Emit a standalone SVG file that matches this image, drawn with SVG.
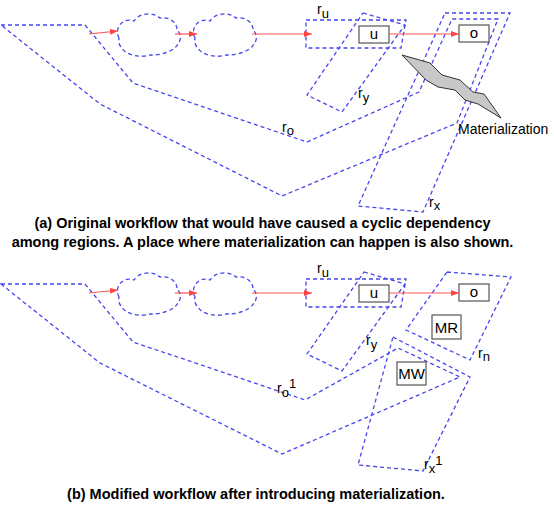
<svg xmlns="http://www.w3.org/2000/svg" width="554" height="510" viewBox="0 0 554 510">
<style>
.region{fill:none;stroke:#4646ee;stroke-width:1.3;stroke-dasharray:4 3}
.flow{fill:none;stroke:#ff5555;stroke-width:1.2;marker-end:url(#ah)}
.box{fill:#fff;stroke:#555;stroke-width:1.2}
.lbl{font-family:"Liberation Sans",Arial,sans-serif;font-size:14px;fill:#000}
.blbl{font-family:"Liberation Sans",Arial,sans-serif;font-size:15px;fill:#000;text-anchor:middle}
.cap{font-family:"Liberation Sans",Arial,sans-serif;font-size:14.5px;font-weight:bold;fill:#000;text-anchor:middle}
</style>
<defs>
<marker id="ah" markerUnits="userSpaceOnUse" markerWidth="8" markerHeight="6" refX="8" refY="3" orient="auto">
<path d="M0,0 L8,3 L0,6 z" fill="#ff4444"/>
</marker>
<path id="cloudshape" d="M119,38 A12,12 0 0 1 134,21 A16,13 0 0 1 160,18 A14,12 0 0 1 177,30 A10,10 0 0 1 178,44 A28,16 0 0 1 150,55 A20,12 0 0 1 122,48 A10,10 0 0 1 119,38 Z"/>
</defs>

<!-- Panel (a) -->
<g id="a_ro"><polygon class="region" points="1,25 85,25 133,83 307,142 419,92 452,19 498,19 457,123 282,196 100,104"/>
<text class="lbl" x="282" y="132">r<tspan dy="3" font-size="13">o</tspan></text></g>
<g id="a_rx"><polygon class="region" points="445,13 510,13 423,212 358,206"/>
<text class="lbl" x="429" y="207">r<tspan dy="3" font-size="13">x</tspan></text></g>
<g id="a_ru"><polygon class="region" points="306,20 406,20 401,48 306,48"/>
<text class="lbl" x="317" y="14">r<tspan dy="4" font-size="13">u</tspan></text></g>
<g id="a_ry"><polygon class="region" points="363,13 405,25 342,112 307,95"/>
<text class="lbl" x="358" y="98">r<tspan dy="4" font-size="13">y</tspan></text></g>
<g id="a_cloud1"><use href="#cloudshape" class="region"/></g>
<g id="a_cloud2"><use href="#cloudshape" class="region" transform="translate(76,0)"/></g>
<g id="a_u"><rect class="box" x="359" y="26" width="30" height="17"/><text class="blbl" x="374" y="39">u</text></g>
<g id="a_o"><rect class="box" x="459" y="25" width="30" height="17"/><text class="blbl" x="474" y="38">o</text></g>
<g id="a_mat"><polygon points="402,55 430,63 442,75 460,80 473,92 484,94 501,118 478,104 465,100 455,90 438,87 426,80" fill="#c8c8c8" stroke="#333" stroke-width="1"/>
<text class="lbl" x="458" y="134" font-size="14.8">Materialization</text></g>
<g id="a_connectors">
<line class="flow" x1="89" y1="34" x2="118" y2="31"/>
<line class="flow" x1="175" y1="34" x2="197" y2="34"/>
<line class="flow" x1="252" y1="34" x2="312" y2="34"/>
<line class="flow" x1="389" y1="34" x2="459" y2="34"/>
</g>
<g id="cap_a">
<text class="cap" x="262.5" y="228">(a) Original workflow that would have caused a cyclic dependency</text>
<text class="cap" x="262.5" y="247">among regions. A place where materialization can happen is also shown.</text>
</g>

<!-- Panel (b) -->
<g id="b_ro1"><polygon class="region" points="1,284 85,284 133,342 305,400 398,348 460,377 282,454 100,363"/>
<text class="lbl" x="277" y="393">r<tspan dy="4" font-size="13">o</tspan><tspan dy="-9" font-size="13">1</tspan></text></g>
<g id="b_rx1"><polygon class="region" points="393,337 470,377 423,471 358,465"/>
<text class="lbl" x="424" y="469">r<tspan dy="4" font-size="13">x</tspan><tspan dy="-8" font-size="13">1</tspan></text></g>
<g id="b_rn"><polygon class="region" points="447,272 511,277 470,360 406,330"/>
<text class="lbl" x="478" y="358">r<tspan dy="3" font-size="13">n</tspan></text></g>
<g id="b_ru"><polygon class="region" points="306,279 406,279 401,307 306,307"/>
<text class="lbl" x="317" y="273">r<tspan dy="4" font-size="13">u</tspan></text></g>
<g id="b_ry"><polygon class="region" points="364,272 405,284 342,371 307,354"/>
<text class="lbl" x="366" y="345">r<tspan dy="4" font-size="13">y</tspan></text></g>
<g id="b_cloud1"><use href="#cloudshape" class="region" transform="translate(0,259)"/></g>
<g id="b_cloud2"><use href="#cloudshape" class="region" transform="translate(76,259)"/></g>
<g id="b_u"><rect class="box" x="359" y="285" width="30" height="17"/><text class="blbl" x="374" y="298">u</text></g>
<g id="b_o"><rect class="box" x="459" y="284" width="30" height="17"/><text class="blbl" x="474" y="297">o</text></g>
<g id="b_MR"><rect class="box" x="432" y="315" width="29" height="24"/><text class="blbl" x="446.5" y="332.5">MR</text></g>
<g id="b_MW"><rect class="box" x="397" y="362" width="29" height="23"/><text class="blbl" x="411.5" y="379">MW</text></g>
<g id="b_connectors">
<line class="flow" x1="89" y1="293" x2="118" y2="290"/>
<line class="flow" x1="175" y1="293" x2="197" y2="293"/>
<line class="flow" x1="252" y1="293" x2="312" y2="293"/>
<line class="flow" x1="389" y1="293" x2="459" y2="293"/>
</g>
<g id="cap_b">
<text class="cap" x="256" y="499">(b) Modified workflow after introducing materialization.</text>
</g>
</svg>
